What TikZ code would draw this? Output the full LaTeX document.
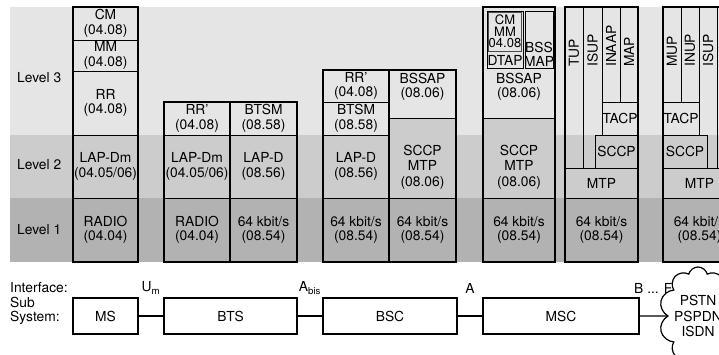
\documentclass[tikz,border=0pt]{standalone}
\usepackage{fontspec}
\setmainfont{TeX Gyre Heros}
\usetikzlibrary{positioning,shapes.symbols}

\begin{document}
\begin{tikzpicture}[x=1pt, y=-1pt,
  every node/.style={font=\fontsize{13.8}{14.5}\selectfont},
  cell/.style={draw, line width=0.9pt, inner sep=0pt, align=center},
  lvthree/.style={cell, fill=gray!20},
  lvtwo/.style={cell, fill=gray!40},
  lvone/.style={cell, fill=gray!60},
  stack/.style={draw, line width=1.6pt},
  strip/.style={draw, line width=0.9pt},
  txt/.style={inner sep=0pt, align=center},
  vtxt/.style={inner sep=0pt, rotate=90, anchor=west},
  sysbox/.style={draw, line width=1.4pt, fill=white, inner sep=0pt},
  netcloud/.style={cloud, draw, line width=1.2pt, fill=white, inner sep=0pt, align=center,
    cloud puffs=10, cloud ignores aspect, minimum width=76, minimum height=98,
    font=\fontsize{13.8}{15.5}\selectfont},
  wire/.style={line width=1.4pt},
  iface/.style={midway, yshift=28pt, inner sep=0pt}
]
\useasboundingbox (0,0) rectangle (719,355);
\clip (0,0) rectangle (719,355);

% level bands
\fill[gray!20] (10,7) rectangle (719,135);
\fill[gray!40] (10,135) rectangle (719,198);
\fill[gray!60] (10,198) rectangle (719,262);
\node[anchor=west, inner sep=0pt] (lvl3) at (17,78) {Level 3};
\node[anchor=west, inner sep=0pt] (lvl2) at (17,165) {Level 2};
\node[anchor=west, inner sep=0pt] (lvl1) at (17,230) {Level 1};

% MS
\node[lvthree, minimum width=65, minimum height=33] (cmA) at (105.5,23.5) {CM\\(04.08)};
\node[lvthree, minimum width=65, minimum height=31] (mmA) at (105.5,55.5) {MM\\(04.08)};
\node[lvthree, minimum width=65, minimum height=64] (rrA) at (105.5,103) {RR\\(04.08)};
\node[lvtwo, minimum width=65, minimum height=63] (lapdmA) at (105.5,166.5) {LAP-Dm\\(04.05/06)};
\node[lvone, minimum width=65, minimum height=64] (radioA) at (105.5,230) {RADIO\\(04.04)};
\draw[stack] (73,7) rectangle (138,262);

% BTS
\node[lvthree, minimum width=66, minimum height=33] (rrpB) at (197,118.5) {RR'\\(04.08)};
\node[lvtwo, minimum width=66, minimum height=63] (lapdmB) at (197,166.5) {LAP-Dm\\(04.05/06)};
\node[lvone, minimum width=66, minimum height=64] (radioB) at (197,230) {RADIO\\(04.04)};
\node[lvthree, minimum width=67, minimum height=33] (btsmB) at (263.5,118.5) {BTSM\\(08.58)};
\node[lvtwo, minimum width=67, minimum height=63] (lapdB) at (263.5,166.5) {LAP-D\\(08.56)};
\node[lvone, minimum width=67, minimum height=64] (kbitB) at (263.5,230) {64 kbit/s\\(08.54)};
\draw[stack] (164,102) rectangle (230,262);
\draw[stack] (230,102) rectangle (297,262);

% BSC
\node[lvthree, minimum width=66, minimum height=32] (rrpC) at (356,86) {RR'\\(04.08)};
\node[lvthree, minimum width=66, minimum height=33] (btsmC) at (356,118.5) {BTSM\\(08.58)};
\node[lvtwo, minimum width=66, minimum height=63] (lapdC) at (356,166.5) {LAP-D\\(08.56)};
\node[lvone, minimum width=66, minimum height=64] (kbitC) at (356,230) {64 kbit/s\\(08.54)};
\node[lvthree, minimum width=67, minimum height=48] (bssapC) at (422.5,94) {};
\node[txt] (bssapCt) at (422.5,87) {BSSAP\\(08.06)};
\node[lvtwo, minimum width=67, minimum height=80] (sccpC) at (422.5,158) {};
\node[txt, font=\fontsize{13.8}{15.5}\selectfont] (sccpCt) at (422.5,167) {SCCP\\MTP\\(08.06)};
\node[lvone, minimum width=67, minimum height=64] (kbitCC) at (422.5,230) {64 kbit/s\\(08.54)};
\draw[stack] (323,70) rectangle (389,262);
\draw[stack] (389,70) rectangle (456,262);

% MSC
\node[lvthree, minimum width=72, minimum height=111] (topD) at (519,62.5) {};
\node[lvthree, minimum width=36, minimum height=57] (dtapD) at (505,39.5) {};
\node[lvthree, draw=gray!60!black, line width=1.5pt, minimum width=33, minimum height=39] (cmmmD) at (505,32) {};
\node[txt, font=\fontsize{13}{11.5}\selectfont] (cmmmDt) at (505,31.5) {CM\\MM\\04.08};
\node[txt] (dtapDt) at (505,60.5) {DTAP};
\node[lvthree, minimum width=28, minimum height=57] (bssmapD) at (539,39.5) {};
\node[txt] (bssmapDt) at (539,54.5) {BSS\\MAP};
\node[txt] (bssapDt) at (519,87) {BSSAP\\(08.06)};
\node[lvtwo, minimum width=72, minimum height=80] (sccpD) at (519,158) {};
\node[txt, font=\fontsize{13.8}{15.5}\selectfont] (sccpDt) at (519,167) {SCCP\\MTP\\(08.06)};
\node[lvone, minimum width=72, minimum height=64] (kbitD) at (519,230) {64 kbit/s\\(08.54)};
\draw[stack] (483,7) rectangle (555,262);

% MSC towards fixed networks
\draw[strip] (583,7) -- (583,168);
\draw[strip] (602,7) -- (602,102);
\draw[strip] (620,7) -- (620,102);
\node[vtxt] (tupE) at (574,67) {TUP};
\node[vtxt] (isupE) at (592.5,67) {ISUP};
\node[vtxt] (inaapE) at (611,67) {INAAP};
\node[vtxt] (mapE) at (629,67) {MAP};
\node[lvthree, minimum width=36, minimum height=33] (tacpE) at (620,118.5) {TACP};
\node[lvtwo, minimum width=43, minimum height=33] (sccpE) at (616.5,151.5) {SCCP};
\node[lvtwo, minimum width=73, minimum height=30] (mtpE) at (601.5,183) {MTP};
\node[lvone, minimum width=73, minimum height=64] (kbitE) at (601.5,230) {64 kbit/s\\(08.54)};
\draw[stack] (565,7) rectangle (638,262);

\draw[strip] (681,7) -- (681,102);
\draw[strip] (699,7) -- (699,102);
\draw[strip] (717,7) -- (717,168);
\node[vtxt] (mupF) at (672,67) {MUP};
\node[vtxt] (inupF) at (690,67) {INUP};
\node[vtxt] (isupF) at (708,67) {ISUP};
\node[lvthree, minimum width=36, minimum height=33] (tacpF) at (681,118.5) {TACP};
\node[lvtwo, minimum width=44, minimum height=33] (sccpF) at (685,151.5) {SCCP};
\node[lvtwo, minimum width=73, minimum height=30] (mtpF) at (699.5,183) {MTP};
\node[lvone, minimum width=73, minimum height=64] (kbitF) at (699.5,230) {64 kbit/s\\(08.54)};
\draw[stack] (663,7) rectangle (736,262);

% sub systems and interfaces
\node[anchor=west, inner sep=0pt] (ifc) at (10,288) {Interface:};
\node[anchor=west, inner sep=0pt] (subA) at (10,302) {Sub};
\node[anchor=west, inner sep=0pt] (subB) at (10,318) {System:};
\node[sysbox, minimum width=65, minimum height=36] (ms) at (105.5,316) {MS};
\node[sysbox, minimum width=133, minimum height=36] (bts) at (230.5,316) {BTS};
\node[sysbox, minimum width=134, minimum height=36] (bsc) at (390,316) {BSC};
\node[sysbox, minimum width=156, minimum height=36] (msc) at (561,316) {MSC};
\node[netcloud] (pstn) at (698,316) {PSTN\\PSPDN\\ISDN};
\draw[wire] (ms) -- node[iface] {U\textsubscript{m}} (bts);
\draw[wire] (bts) -- node[iface] {A\textsubscript{bis}} (bsc);
\draw[wire] (bsc) -- node[iface] {A} (msc);
\draw[wire] (msc) -- node[iface] {B ... F} (pstn);
\end{tikzpicture}
\end{document}
